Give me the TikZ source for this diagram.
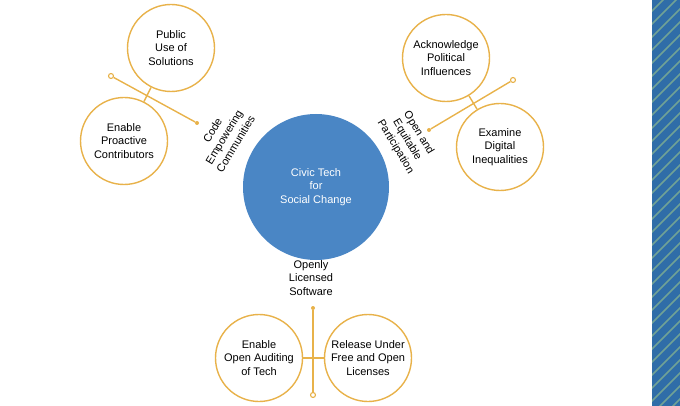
\documentclass[tikz,border=0pt]{standalone}
\usepackage{fontspec}
\setmainfont{Liberation Sans}
\definecolor{gold}{RGB}{232,178,74}
\definecolor{hub}{RGB}{74,134,197}
\definecolor{panel}{RGB}{47,109,168}
\definecolor{stripe}{RGB}{112,162,150}
\begin{document}
\begin{tikzpicture}[x=1pt,y=-1pt,
  leaf/.style={circle,draw=gold,line width=1.4pt,fill=white,minimum size=87pt,inner sep=0pt,align=center,font=\fontsize{11}{13.5}\selectfont},
  link/.style={draw=gold,line width=1.4pt},
  opend/.style={circle,draw=gold,line width=1.1pt,fill=white,minimum size=5pt,inner sep=0pt},
  dotend/.style={circle,fill=gold,minimum size=4pt,inner sep=0pt},
  lbl/.style={align=center,font=\fontsize{11}{13.5}\selectfont}]
\useasboundingbox (0,0) rectangle (680,406);
% right striped panel
\fill[panel] (652,0) rectangle (680,406);
\begin{scope}
\clip (652,0) rectangle (680,406);
\foreach \i in {0,...,36} \draw[stripe,line width=1.6pt] (650,13*\i) -- ++(44,-44);
\end{scope}
% hub
\node[circle,fill=hub,minimum size=146pt,inner sep=0pt,align=center,text=white,font=\fontsize{11}{13.5}\selectfont] (hub) at (316,187) {Civic Tech\\for\\Social Change};
% top-left cluster
\node[opend] (tlA) at (111,76) {};
\node[dotend] (tlB) at (197,123) {};
\draw[link] (tlA) -- (tlB);
\node[leaf] (pub) at (171,48) {Public\\Use of\\Solutions};
\node[leaf] (ena) at (124,141) {Enable\\Proactive\\Contributors};
\draw[link] (pub) -- (ena);
\node[lbl,rotate=59] (code) at (224,137) {Code\\Empowering\\Communities};
% top-right cluster
\node[opend] (trA) at (513,80) {};
\node[dotend] (trB) at (429,130) {};
\draw[link] (trA) -- (trB);
\node[leaf] (ack) at (446,58) {Acknowledge\\Political\\Influences};
\node[leaf] (exa) at (500,147) {Examine\\Digital\\Inequalities};
\draw[link] (ack) -- (exa);
\node[lbl,rotate=-59] (open) at (407,140) {Open and\\Equitable\\Participation};
% bottom cluster
\node[lbl] (lic) at (311,278) {Openly\\Licensed\\Software};
\node[dotend] (bA) at (313,308) {};
\node[opend] (bB) at (313,395) {};
\draw[link] (bA) -- (bB);
\node[leaf] (aud) at (259,358) {Enable\\Open Auditing\\of Tech};
\node[leaf] (rel) at (368,358) {Release Under\\Free and Open\\Licenses};
\draw[link] (aud) -- (rel);
\end{tikzpicture}
\end{document}
